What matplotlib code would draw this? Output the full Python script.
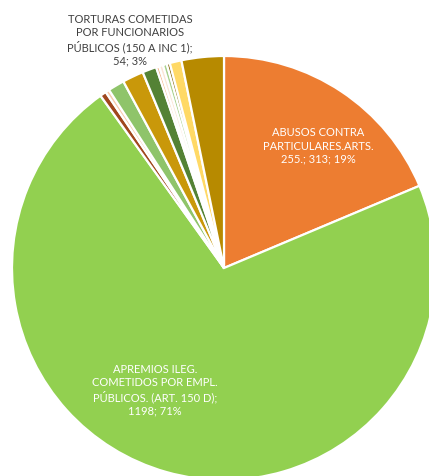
import matplotlib
matplotlib.use("Agg")
import matplotlib.pyplot as plt

categories = [
    "ABUSOS CONTRA\nPARTICULARES.ARTS.\n255.",
    "APREMIOS ILEG.\nCOMETIDOS POR EMPL.\nPÚBLICOS. (ART. 150 D)",
    "Otro 1", "Otro 2", "Otro 3", "Otro 4", "Otro 5",
    "Otro 6", "Otro 7", "Otro 8", "Otro 9", "Otro 10",
    "TORTURAS COMETIDAS\nPOR FUNCIONARIOS\nPÚBLICOS (150 A INC 1)",
]
values = [313, 1198, 8, 5, 21, 27, 18, 4, 5, 5, 4, 15, 54]
colors = ["#ED7D31", "#92D050", "#A0471E", "#F8CBAD", "#8FC46A", "#C9980A",
          "#548235", "#F4B183", "#FBE5D6", "#A9D18E", "#7F6000", "#FFD966",
          "#B78A00"]
shown_percent = [19, 71, 3]

fig = plt.figure(figsize=(4.29, 4.76), dpi=100)
ax = fig.add_axes([0, 0, 1, 1])

ax.pie(values, colors=colors, startangle=90, counterclock=False,
       center=(224, 208), radius=212, frame=True,
       wedgeprops=dict(edgecolor="white", linewidth=1.6))
ax.set_xlim(0, 429)
ax.set_ylim(0, 476)
ax.set_aspect("equal")
ax.axis("off")

font = dict(family=["Lato", "DejaVu Sans"], fontsize=8, ha="center", va="center",
            linespacing=1.25)
ax.text(318, 476 - 146, f"{categories[0]}; {values[0]}; {shown_percent[0]}%",
        color="white", **font)
ax.text(155, 476 - 390, f"{categories[1]};\n{values[1]}; {shown_percent[1]}%",
        color="white", **font)
ax.text(130, 476 - 40, f"{categories[-1]};\n{values[-1]}; {shown_percent[2]}%",
        color="#404040", **font)

fig.savefig("out.png", dpi=100)
